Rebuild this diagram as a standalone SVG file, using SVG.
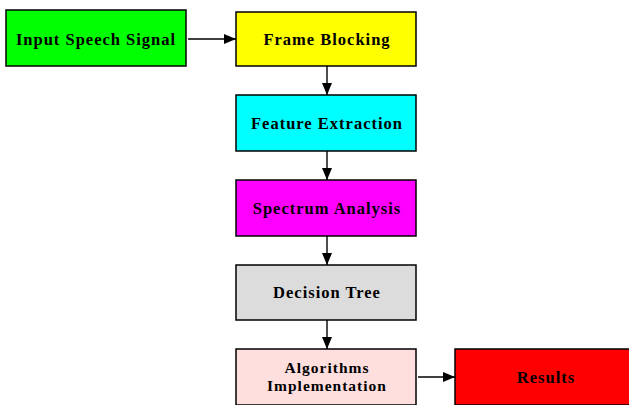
<svg xmlns="http://www.w3.org/2000/svg" width="629" height="405" viewBox="0 0 629 405">
<style>
.box{stroke:#000;stroke-width:1.5}
.t{font-family:"Liberation Serif","Times New Roman",serif;font-weight:bold;font-size:16.5px;text-anchor:middle;fill:#000;letter-spacing:1px}
.s{font-size:15.5px}
.e{stroke:#000;stroke-width:1.4;fill:none}
</style>
<defs>
<marker id="ah" viewBox="0 0 12 10" refX="12" refY="5" markerWidth="12" markerHeight="10" markerUnits="userSpaceOnUse" orient="auto">
<path d="M0,0 L12,5 L0,10 z" fill="#000"/>
</marker>
</defs>
<rect width="629" height="405" fill="#fff"/>
<g id="connectors">
<line class="e" x1="188" y1="39" x2="236" y2="39" marker-end="url(#ah)"/>
<line class="e" x1="327" y1="66" x2="327" y2="95" marker-end="url(#ah)"/>
<line class="e" x1="327" y1="151" x2="327" y2="180" marker-end="url(#ah)"/>
<line class="e" x1="327" y1="236" x2="327" y2="265" marker-end="url(#ah)"/>
<line class="e" x1="327" y1="320" x2="327" y2="349" marker-end="url(#ah)"/>
<line class="e" x1="418" y1="377" x2="455" y2="377" marker-end="url(#ah)"/>
</g>
<g id="input"><rect class="box" x="6" y="10" width="180" height="56" fill="#00ff00"/><text class="t" x="96" y="45">Input Speech Signal</text></g>
<g id="frame"><rect class="box" x="236" y="12" width="180" height="54" fill="#ffff00"/><text class="t" x="327" y="45">Frame Blocking</text></g>
<g id="feature"><rect class="box" x="236" y="95" width="180" height="56" fill="#00ffff"/><text class="t" x="327" y="129">Feature Extraction</text></g>
<g id="spectrum"><rect class="box" x="236" y="180" width="180" height="56" fill="#ff00ff"/><text class="t" x="327" y="214">Spectrum Analysis</text></g>
<g id="decision"><rect class="box" x="236" y="265" width="180" height="55" fill="#dcdcdc"/><text class="t" x="327" y="298">Decision Tree</text></g>
<g id="algorithms"><rect class="box" x="236" y="349" width="180" height="56" fill="#ffdede"/><text class="t s" x="327" y="373">Algorithms</text><text class="t s" x="327" y="391">Implementation</text></g>
<g id="results"><rect class="box" x="455" y="349" width="176" height="56" fill="#ff0000"/><text class="t" x="546" y="383">Results</text></g>
</svg>
